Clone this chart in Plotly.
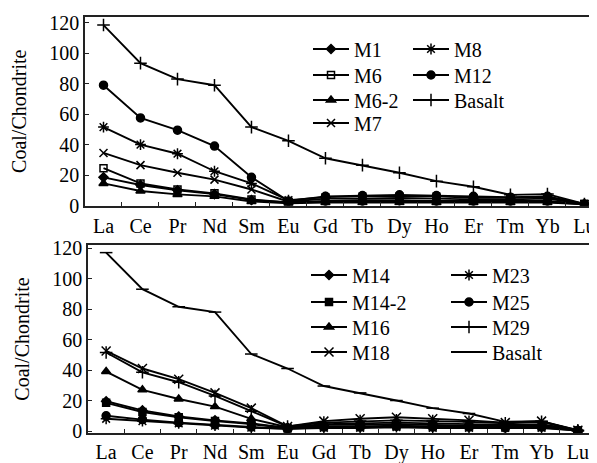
import plotly.graph_objects as go

elements = ["La", "Ce", "Pr", "Nd", "Sm", "Eu", "Gd", "Tb", "Dy", "Ho", "Er", "Tm", "Yb", "Lu"]
y_ticks = [0, 20, 40, 60, 80, 100, 120]

# Top panel
top_M1 = [18.5, 13.5, 10, 7.5, 3.6, 2, 2.5, 2.5, 3, 2.5, 2.5, 2.5, 2.5, 0.8]
top_M6 = [24.5, 14.5, 10.5, 8, 4, 2, 3, 3.5, 3.5, 3, 3, 3, 3, 1]
top_M6_2 = [14.5, 9.5, 7.3, 6, 2.6, 1.5, 2, 2, 2, 2, 2, 2, 2, 0.8]
top_M7 = [34.5, 26.5, 21.5, 17, 10.5, 2.5, 4.5, 4.5, 5, 4.5, 4, 4, 4.5, 1]
top_M8 = [51.5, 40, 34, 22.5, 14.5, 3.5, 5.5, 6, 6, 6, 5, 5, 5.5, 1]
top_M12 = [79, 57.5, 49.5, 39, 18.5, 3, 6, 6.5, 7, 6.5, 6, 5.5, 6, 1]
top_Basalt = [118.5, 93.5, 83, 79, 51.5, 42.5, 31, 26.5, 21.5, 16, 12.3, 7, 7.5, 1]

# Bottom panel
bot_M14 = [19.5, 13.5, 9.5, 7, 5, 2, 4, 4, 4.5, 4, 3.5, 3.5, 3.5, 0.4]
bot_M14_2 = [18.5, 12.5, 9, 6.5, 4.5, 2, 3, 3, 3.5, 3, 3, 3, 3, 0.4]
bot_M16 = [39, 27, 21, 16, 8, 2.5, 4.5, 5, 5.5, 5, 4.5, 4, 4.5, 0.5]
bot_M18 = [52.5, 41, 34, 25, 15, 3, 6.5, 8, 9, 8, 7, 5.5, 6.5, 0.5]
bot_M23 = [8, 6.5, 5, 3.5, 2.2, 1.5, 2, 2, 2.5, 2, 2, 2, 2, 0.3]
bot_M25 = [10, 7.5, 5.5, 4, 2.6, 1.5, 2.5, 2.5, 3, 2.5, 2.5, 2, 2.5, 0.3]
bot_M29 = [51.5, 38.5, 32, 23, 13, 3, 5.5, 6.5, 7, 6.5, 6, 5, 6, 0.5]
bot_Basalt = [117, 93, 81.5, 78, 50.5, 41, 29.5, 25, 20, 15, 11.5, 6, 6.5, 0]

FONT = "Liberation Serif"
OFF = 8  # page body margin
W, H = 597 - OFF, 463 - OFF
fig = go.Figure()


def px_x(p):
    return (p - OFF) / W


def px_y(p):
    return 1 - (p - OFF) / H


leg_base = dict(bgcolor="rgba(0,0,0,0)", borderwidth=0, visible=True,
                font=dict(family=FONT, size=20, color="black"),
                itemwidth=36, yanchor="middle", xanchor="left")
legends = {}
counter = [0]


def add(name, vals, symbol, size, xa, ya, lx, ly):
    counter[0] += 1
    key = "legend" if counter[0] == 1 else f"legend{counter[0]}"
    legends[key] = dict(leg_base, x=px_x(lx - 47), y=px_y(ly))
    fig.add_trace(go.Scatter(
        x=elements, y=vals, name=name, mode="lines+markers", showlegend=True,
        line=dict(color="black", width=1.9),
        marker=dict(symbol=symbol, size=size, color="black",
                    line=dict(color="black", width=1.5)),
        legend=key, xaxis=xa, yaxis=ya))


# top panel: legend text positions (px)
add("M1", top_M1, "diamond", 7, "x", "y", 355, 49)
add("M6", top_M6, "square-open", 7, "x", "y", 355, 75)
add("M6-2", top_M6_2, "triangle-up", 8, "x", "y", 355, 100)
add("M7", top_M7, "x-thin-open", 8, "x", "y", 355, 123)
add("M8", top_M8, "asterisk-open", 9, "x", "y", 455, 49)
add("M12", top_M12, "circle", 8, "x", "y", 455, 75)
add("Basalt", top_Basalt, "cross-thin-open", 9, "x", "y", 455, 100)

# bottom panel
add("M14", bot_M14, "diamond", 7, "x2", "y2", 353, 275)
add("M14-2", bot_M14_2, "square", 7, "x2", "y2", 353, 302)
add("M16", bot_M16, "triangle-up", 8, "x2", "y2", 353, 327)
add("M18", bot_M18, "x-thin-open", 9, "x2", "y2", 353, 352)
add("M23", bot_M23, "asterisk-open", 9, "x2", "y2", 493, 275)
add("M25", bot_M25, "circle", 8, "x2", "y2", 493, 302)
add("M29", bot_M29, "cross-thin-open", 9, "x2", "y2", 493, 327)
add("Basalt", bot_Basalt, "line-ew-open", 9, "x2", "y2", 493, 352)

axis_common = dict(showgrid=False, zeroline=False, showline=True, linecolor="#222",
                   linewidth=1.5, ticks="inside", ticklen=4, tickcolor="#222",
                   automargin=False,
                   tickfont=dict(family=FONT, size=20, color="black"))

fig.update_layout(
    template="none", showlegend=True,
    width=W, height=H, margin=dict(l=0, r=0, t=0, b=0),
    paper_bgcolor="white", plot_bgcolor="white",
    font=dict(family=FONT, size=20, color="black"),
    xaxis=dict(axis_common, type="category", domain=[px_x(85), 1], anchor="y",
               range=[-0.5, 13.34], tickson="boundaries", mirror=True,
               tickangle=0, ticklabelstandoff=2),
    yaxis=dict(axis_common, domain=[px_y(205.5), px_y(17)], anchor="x",
               range=[0, 123.8], tickvals=y_ticks,
               title=dict(text="Coal/Chondrite", font=dict(family=FONT, size=20),
                          standoff=17)),
    xaxis2=dict(axis_common, type="category", domain=[px_x(88), px_x(596)], anchor="y2",
                range=[-0.5, 13.5], tickson="boundaries", mirror=True,
                tickangle=0, ticklabelstandoff=0),
    yaxis2=dict(axis_common, domain=[px_y(433), px_y(245)], anchor="x2",
                range=[-1.3, 122], tickvals=y_ticks, mirror="ticks",
                title=dict(text="Coal/Chondrite", font=dict(family=FONT, size=20),
                           standoff=17)),
    **legends,
)

fig.write_html("out.html")
